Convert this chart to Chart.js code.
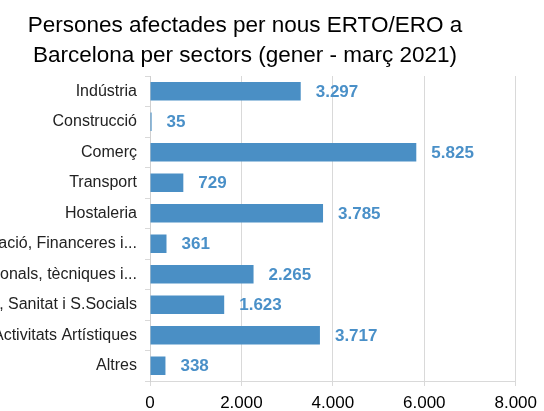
<!DOCTYPE html>
<html>
<head>
<meta charset="utf-8">
<script src="https://cdn.jsdelivr.net/npm/chart.js@4/dist/chart.umd.min.js"></script>
<style>
  html, body { margin: 0; padding: 0; background: #ffffff; }
  #wrap { width: 544px; height: 411px; position: relative; }
</style>
</head>
<body>
<div id="wrap"><canvas id="c" width="544" height="411"></canvas></div>
<script>
const titleLines = ["Persones afectades per nous ERTO/ERO a", "Barcelona per sectors (gener - març 2021)"];
const categories = [
  "Indústria",
  "Construcció",
  "Comerç",
  "Transport",
  "Hostaleria",
  "Informació, Financeres i...",
  "Act. Professionals, tècniques i...",
  "Educació, Sanitat i S.Socials",
  "Oci i Activitats Artístiques",
  "Altres"
];
const values = [3297, 35, 5825, 729, 3785, 361, 2265, 1623, 3717, 338];
const xTicks = [0, 2000, 4000, 6000, 8000];

const fmt = v => v.toLocaleString('de-DE');
const barColor = '#4a8fc5';
const labelColor = '#4a90c8';

const titlePlugin = {
  id: 'customTitle',
  afterDraw(chart) {
    const ctx = chart.ctx;
    ctx.save();
    ctx.fillStyle = '#000000';
    ctx.font = '22.5px "Liberation Sans", Arial, sans-serif';
    ctx.textAlign = 'center';
    ctx.textBaseline = 'alphabetic';
    ctx.fillText(titleLines[0], 245, 32);
    ctx.fillText(titleLines[1], 245, 62);
    ctx.restore();
  }
};

const valueLabels = {
  id: 'valueLabels',
  afterDatasetsDraw(chart) {
    const ctx = chart.ctx;
    const meta = chart.getDatasetMeta(0);
    ctx.save();
    ctx.fillStyle = labelColor;
    ctx.font = 'bold 17px "Liberation Sans", Arial, sans-serif';
    ctx.textAlign = 'left';
    ctx.textBaseline = 'middle';
    meta.data.forEach((bar, i) => {
      ctx.fillText(fmt(chart.data.datasets[0].data[i]), bar.x + 15, bar.y + 1);
    });
    ctx.restore();
  }
};

new Chart(document.getElementById('c'), {
  type: 'bar',
  data: {
    labels: categories,
    datasets: [{
      data: values,
      backgroundColor: barColor,
      borderWidth: 0,
      barPercentage: 0.6,
      categoryPercentage: 1.0
    }]
  },
  options: {
    indexAxis: 'y',
    responsive: false,
    animation: false,
    devicePixelRatio: 1,
    layout: { padding: { top: 76, right: 26.5, left: 0, bottom: 0 } },
    plugins: {
      legend: { display: false },
      title: { display: false },
      tooltip: { enabled: false }
    },
    scales: {
      x: {
        type: 'linear',
        min: 0,
        max: 8000,
        afterBuildTicks(scale) { scale.ticks = xTicks.map(v => ({ value: v })); },
        afterFit(scale) { scale.height = 30; },
        grid: { color: '#d9d9d9', lineWidth: 1, drawTicks: true, tickLength: 5, tickColor: '#d9d9d9' },
        border: { display: true, color: '#d9d9d9' },
        ticks: {
          color: '#000000',
          font: { family: '"Liberation Sans", Arial, sans-serif', size: 17 },
          padding: 7,
          maxRotation: 0,
          callback: v => fmt(v)
        }
      },
      y: {
        type: 'category',
        afterFit(scale) { scale.width = 150; },
        grid: { display: true, drawOnChartArea: false, offset: true, drawTicks: true, tickLength: 5, tickColor: '#d9d9d9', color: '#d9d9d9' },
        border: { display: true, color: '#d0d0d0' },
        ticks: {
          color: '#222222',
          font: { family: '"Liberation Sans", Arial, sans-serif', size: 16 },
          padding: 8,
          autoSkip: false
        }
      }
    }
  },
  plugins: [titlePlugin, valueLabels]
});
</script>
</body>
</html>
